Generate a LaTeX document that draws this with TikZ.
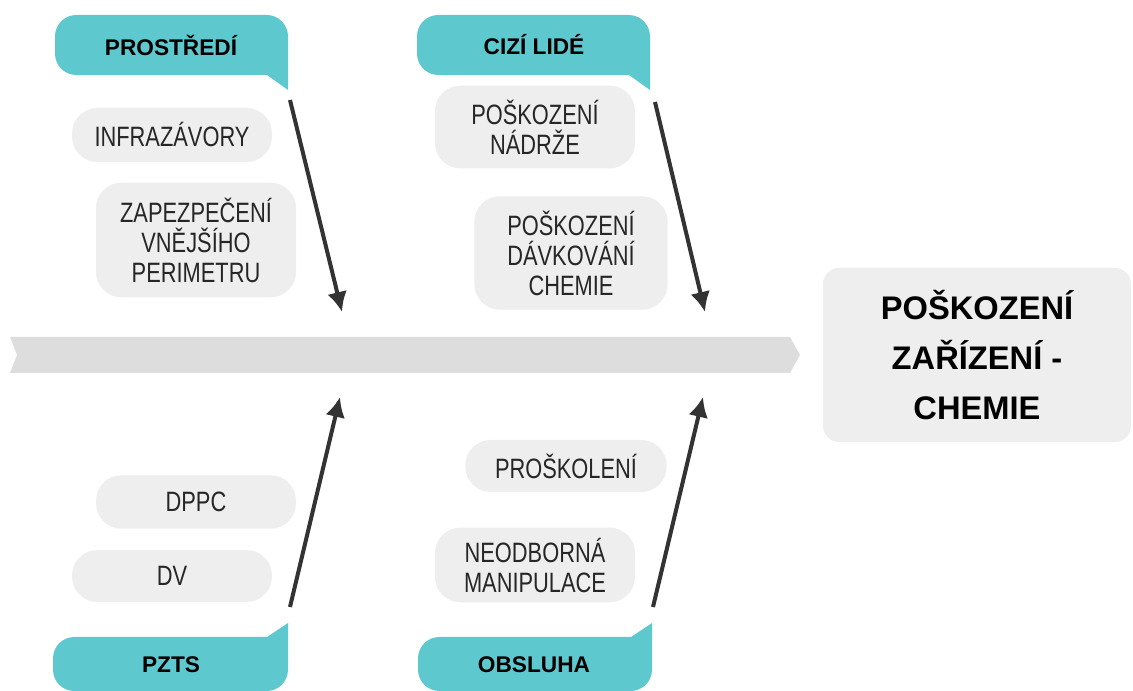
\documentclass[tikz,border=0pt]{standalone}
\usepackage{fontspec}
\setmainfont{Liberation Sans}
\newfontfamily\uzkyfont[FakeStretch=0.78]{Liberation Sans}
\usepackage{tikz}
\usepackage{xcolor}
\usetikzlibrary{arrows.meta}
\definecolor{tyrkys}{RGB}{94,200,207}
\definecolor{seda}{RGB}{238,238,238}
\definecolor{osa}{RGB}{222,221,222}

\begin{document}
\begin{tikzpicture}[x=0.75pt, y=-0.75pt, >={Latex[length=15pt,width=15pt]},
  pricina/.style={fill=seda, rounded corners=19pt, minimum width=150pt, inner sep=0pt,
    align=center, text=black!85, font=\uzkyfont\fontsize{21pt}{22.5pt}\selectfont},
  stitek/.style={font=\bfseries\fontsize{17pt}{19pt}\selectfont},
  sipka/.style={->, line width=3pt, black!80}]
  \useasboundingbox (0,0) rectangle (1133,691);
  % === Hlavni osa ===
  \fill[osa] (10,337) -- (790,337) -- (800,355) -- (790,373) -- (10,373) -- (17,355) -- cycle;
  % === Nasledek ===
  \node[fill=seda, rounded corners=12pt, minimum width=231pt, minimum height=130.5pt,
    align=center, font=\bfseries\fontsize{24.5pt}{37.5pt}\selectfont]
    (nasledek) at (977,355) {POŠKOZENÍ\\ZAŘÍZENÍ -\\CHEMIE};
  % === Stitky nahore ===
  \fill[tyrkys] (267,75) [rounded corners=16pt] -- (55,75) -- (55,15) -- (288,15)
    [sharp corners] -- (288,90) -- cycle;
  \node[stitek] (prostredi) at (171,45) {PROSTŘEDÍ};
  \fill[tyrkys] (629,75) [rounded corners=16pt] -- (417,75) -- (417,15) -- (650,15)
    [sharp corners] -- (650,90) -- cycle;
  \node[stitek] (cizi) at (534,45) {CIZÍ LIDÉ};
  % === Stitky dole ===
  \fill[tyrkys] (267,637) [rounded corners=16pt] -- (53,637) -- (53,691) -- (288,691)
    [sharp corners] -- (288,623) -- cycle;
  \node[stitek] (pzts) at (171,665) {PZTS};
  \fill[tyrkys] (631,637) [rounded corners=16pt] -- (418,637) -- (418,691) -- (652,691)
    [sharp corners] -- (652,623) -- cycle;
  \node[stitek] (obsluha) at (534,665) {OBSLUHA};
  % === Priciny ===
  \node[pricina, minimum height=40.5pt] (infra) at (172,135) {INFRAZÁVORY};
  \node[pricina, minimum height=86pt] (perimetr) at (196,240)
    {ZAPEZPEČENÍ\\VNĚJŠÍHO\\PERIMETRU};
  \node[pricina, minimum height=62pt] (nadrz) at (535,127) {POŠKOZENÍ\\NÁDRŽE};
  \node[pricina, minimum width=145pt, minimum height=85pt] (davkovani) at (571,253)
    {POŠKOZENÍ\\DÁVKOVÁNÍ\\CHEMIE};
  \node[pricina, minimum height=40pt] (dppc) at (196,502) {DPPC};
  \node[pricina, minimum height=39pt] (dv) at (172,576) {DV};
  \node[pricina, minimum width=151pt, minimum height=39pt] (proskoleni) at (566,466) {PROŠKOLENÍ};
  \node[pricina, minimum height=56pt] (manipulace) at (535,565) {NEODBORNÁ\\MANIPULACE};
  % === Sipky k ose ===
  \coordinate (z1) at (290,100); \coordinate (k1) at (342,312);
  \coordinate (z2) at (655,102); \coordinate (k2) at (705,312);
  \coordinate (z3) at (290,607); \coordinate (k3) at (340,397);
  \coordinate (z4) at (653,607); \coordinate (k4) at (703,397);
  \draw[sipka] (z1) -- (k1);
  \draw[sipka] (z2) -- (k2);
  \draw[sipka] (z3) -- (k3);
  \draw[sipka] (z4) -- (k4);
\end{tikzpicture}
\end{document}
